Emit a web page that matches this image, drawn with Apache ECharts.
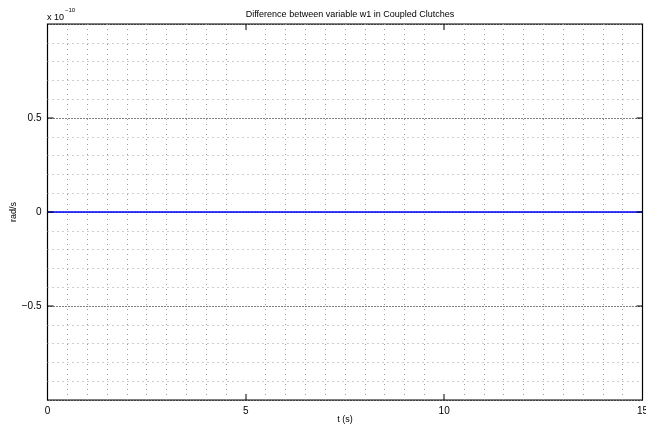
<!DOCTYPE html>
<html><head><meta charset="utf-8">
<script src="https://cdn.jsdelivr.net/npm/echarts@6/dist/echarts.min.js"></script>
<style>html,body{margin:0;padding:0;background:#fff}#c{width:646px;height:432px}</style>
</head><body><div id="c"></div>
<script>
// data (y values in units of 1e-10 rad/s)
const tValues = [0, 1, 2, 3, 4, 5, 6, 7, 8, 9, 10, 11, 12, 13, 14, 15];
const diffValues = [0, 0, 0, 0, 0, 0, 0, 0, 0, 0, 0, 0, 0, 0, 0, 0];
const xTickValues = [5, 10];
const yTickValues = [-0.5, 0, 0.5];
const yTickLabels = {'-0.5': '\u22120.5', '0': '0', '0.5': '0.5'};
const titleText = 'Difference between variable w1 in Coupled Clutches';
const xName = 't (s)', yName = 'rad/s';

const chart = echarts.init(document.getElementById('c'), null, {renderer: 'canvas'});
const F = 'Liberation Sans, Arial, Helvetica, sans-serif';
const X_MIN = 0, X_MAX = 15, Y_MIN = -1, Y_MAX = 1;
const gridL = 47.5, gridT = 24, gridW = 595, gridH = 376;
const majorLine = () => ({show: true, lineStyle: {color: '#000', width: 1, type: [1, 2]}});
const minorLine = () => ({show: true, lineStyle: {color: '#9a9a9a', width: 1, type: [1, 4]}});
const axLine = (idx) => ({show: false, onZero: true, onZeroAxisIndex: idx});
const TL = 6;
// tick kinds: 0 bottom, 1 top, 2 left, 3 right
function tickItem(params, api) {
  const kind = api.value(0), v = api.value(1);
  let p;
  if (kind === 0) { p = api.coord([v, Y_MIN]); return {type: 'rect', shape: {x: Math.round(p[0]) - 0.5, y: p[1] - TL, width: 1, height: TL}, style: {fill: '#000'}}; }
  if (kind === 1) { p = api.coord([v, Y_MAX]); return {type: 'rect', shape: {x: Math.round(p[0]) - 0.5, y: p[1], width: 1, height: TL}, style: {fill: '#000'}}; }
  if (kind === 2) { p = api.coord([X_MIN, v]); return {type: 'rect', shape: {x: p[0], y: Math.round(p[1]) - 0.5, width: TL, height: 1}, style: {fill: '#000'}}; }
  p = api.coord([X_MAX, v]);
  return {type: 'rect', shape: {x: p[0] - TL, y: Math.round(p[1]) - 0.5, width: TL, height: 1}, style: {fill: '#000'}};
}
const tickData = [].concat(
  xTickValues.map(v => [0, v]), xTickValues.map(v => [1, v]),
  yTickValues.map(v => [2, v]), yTickValues.map(v => [3, v]));
chart.setOption({
  animation: false,
  backgroundColor: '#fff',
  title: {text: titleText, left: gridL + gridW / 2, top: 5, textAlign: 'center',
    textStyle: {fontFamily: F, fontSize: 9, fontWeight: 'normal', color: '#000'}},
  grid: {left: gridL, top: gridT, width: gridW, height: gridH, show: true,
    borderColor: '#000', borderWidth: 1.2, backgroundColor: 'transparent',
    outerBoundsMode: 'none', containLabel: false},
  xAxis: [{type: 'value', position: 'bottom', min: X_MIN, max: X_MAX, interval: 5,
    axisLine: axLine(1),
    axisTick: {show: false},
    axisLabel: {fontFamily: F, fontSize: 10, color: '#000', margin: 6,
      formatter: v => String(v)},
    splitLine: {show: false},
    minorTick: {show: false, splitNumber: 10},
    minorSplitLine: minorLine()},
   {type: 'value', position: 'top', min: -15, max: 0, interval: 5, show: false}],
  yAxis: [{type: 'value', position: 'left', min: Y_MIN, max: Y_MAX, interval: 0.5,
    axisLine: axLine(0),
    axisTick: {show: false},
    axisLabel: {fontFamily: F, fontSize: 10, color: '#000', margin: 6,
      formatter: v => { const k = String(Math.round(v * 10) / 10); return yTickLabels[k] !== undefined ? yTickLabels[k] : ''; }},
    splitLine: majorLine(),
    minorTick: {show: false, splitNumber: 5},
    minorSplitLine: minorLine()},
   {type: 'value', position: 'right', min: 0, max: 2, interval: 0.5, show: false}],
  graphic: [
    {type: 'text', left: 47, top: 7, style: {
      text: '{a|x 10}{b|\u221210}', rich: {
        a: {fontFamily: F, fontSize: 9, fill: '#000', verticalAlign: 'bottom', padding: [6, 0, 0, 0]},
        b: {fontFamily: F, fontSize: 6, fill: '#000', verticalAlign: 'top', padding: [0, 0, 6, 1]}}}},
    {type: 'text', x: gridL + gridW / 2, y: 420, style: {
      text: xName, fontFamily: F, fontSize: 9, fill: '#000', align: 'center', verticalAlign: 'middle'}},
    {type: 'text', x: 14, y: gridT + gridH / 2, rotation: Math.PI / 2, style: {
      text: yName, fontFamily: F, fontSize: 9, fill: '#000', align: 'center', verticalAlign: 'middle'}}],
  series: [
    {type: 'line', xAxisIndex: 0, yAxisIndex: 0,
      data: tValues.map((t, i) => [t, diffValues[i]]),
      showSymbol: false, lineStyle: {color: '#0000ff', width: 1.5}, z: 5},
    {type: 'custom', xAxisIndex: 0, yAxisIndex: 0, silent: true, zlevel: 1, z: 20, clip: false,
      data: tickData, renderItem: tickItem}]
});
</script></body></html>
